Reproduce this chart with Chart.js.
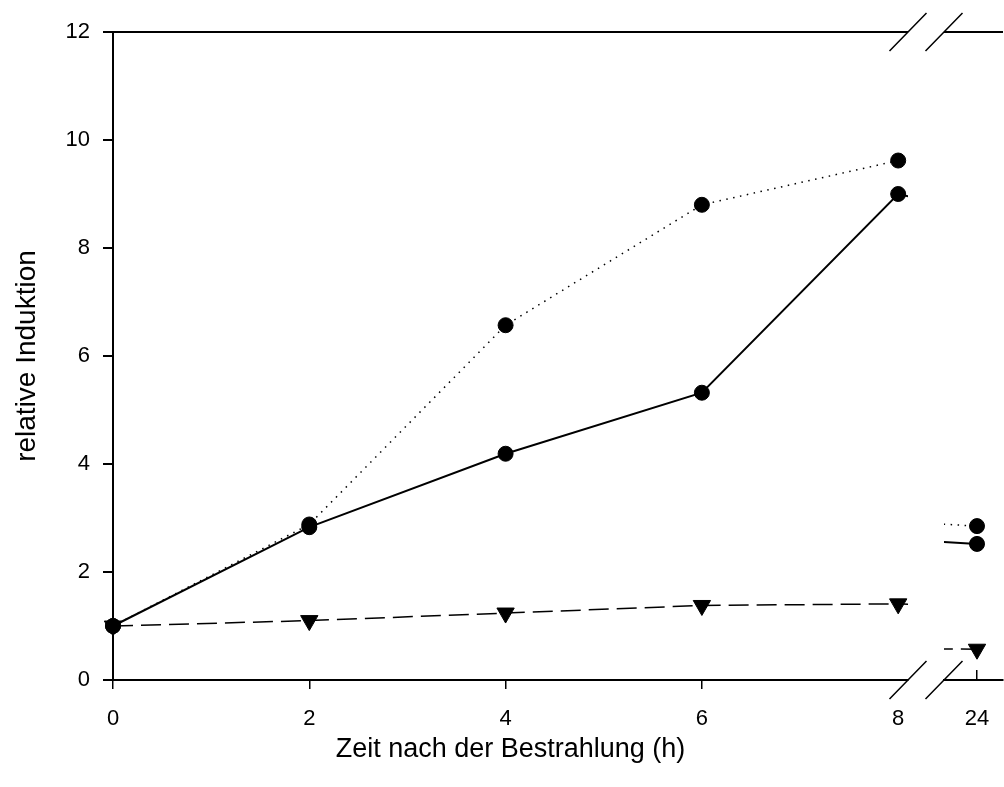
<!DOCTYPE html>
<html>
<head>
<meta charset="utf-8">
<style>
  html, body { margin: 0; padding: 0; background: #fff; }
</style>
<script src="https://cdn.jsdelivr.net/npm/chart.js@4/dist/chart.umd.min.js"></script>
</head>
<body>
<canvas id="inductionChart" width="1004" height="787"></canvas>
<script>
// hours after irradiation (8 -> 24 is across the axis break)
const hours = [0, 2, 4, 6, 8, 24];
const dottedValues = [1.0, 2.88, 6.57, 8.8, 9.62, 2.85];
const solidValues = [1.0, 2.83, 4.19, 5.32, 9.0, 2.52];
const dashedValues = [1.0, 1.1, 1.24, 1.38, 1.41, 0.57];

const xTicksLeft = [0, 2, 4, 6, 8];
const xTicksRight = [24];
const yTicks = [0, 2, 4, 6, 8, 10, 12];

const FONT = 'Liberation Sans, Arial, sans-serif';

/* each series is drawn twice: once on the left x scale, once on the right one,
   every dataset is clipped to its own scale area */
function makePair(label, values, style) {
  const data = hours.map((h, i) => ({ x: h, y: values[i] }));
  const base = Object.assign({
    label,
    data,
    borderColor: '#000',
    backgroundColor: '#000',
    pointBackgroundColor: '#000',
    pointBorderColor: '#000',
    pointBorderWidth: 1,
    fill: false,
    tension: 0,
  }, style);
  return [
    Object.assign({}, base, { xAxisID: 'x', clip: { left: 14, right: 0, top: 14, bottom: 14 } }),
    Object.assign({}, base, { xAxisID: 'x2', clip: { left: 0, right: 14, top: 14, bottom: 14 } }),
  ];
}

const datasets = [
  ...makePair('dotted', dottedValues, {
    borderWidth: 1.5, borderDash: [1.5, 5.5], pointStyle: 'circle', pointRadius: 7.5,
  }),
  ...makePair('solid', solidValues, {
    borderWidth: 2, pointStyle: 'circle', pointRadius: 7.5,
  }),
  ...makePair('dashed', dashedValues, {
    borderWidth: 1.5, borderDash: [20, 8], pointStyle: 'triangle', pointRotation: 180, pointRadius: 10,
  }),
];

const breakPlugin = {
  id: 'axisBreak',
  afterDraw(chart) {
    const { ctx, chartArea } = chart;
    const gap = chart.scales.xgap;
    const top = chartArea.top;
    const bottom = chartArea.bottom;
    ctx.save();
    ctx.strokeStyle = '#000';
    ctx.lineWidth = 2;
    ctx.beginPath();
    ctx.moveTo(chartArea.left, top);
    ctx.lineTo(gap.left, top);
    ctx.moveTo(gap.right, top);
    ctx.lineTo(chartArea.right, top);
    ctx.stroke();

    ctx.lineWidth = 1.5;
    ctx.beginPath();
    [top, bottom].forEach((y) => {
      [gap.left, gap.right].forEach((x) => {
        ctx.moveTo(x - 18.5, y + 19);
        ctx.lineTo(x + 18.5, y - 19);
      });
    });
    ctx.stroke();
    ctx.restore();
  },
};

const tickFont = { family: FONT, size: 22 };
const titleFont = { family: FONT, size: 27 };

// fixed axis thickness, no label overflow padding
const fitBottom = (s) => {
  s.height = 107;
  s.paddingLeft = 0;
  s.paddingRight = 0;
};

new Chart(document.getElementById('inductionChart'), {
  type: 'line',
  data: { datasets },
  plugins: [breakPlugin],
  options: {
    responsive: false,
    animation: false,
    devicePixelRatio: 1,
    layout: { autoPadding: false, padding: { top: 32, right: 1, left: 0, bottom: 0 } },
    plugins: {
      legend: { display: false },
      tooltip: { enabled: false },
    },
    scales: {
      x: {
        type: 'linear',
        position: 'bottom',
        stack: 'bottomAxis',
        stackWeight: 795,
        min: 0,
        max: 8.1,
        afterBuildTicks: (s) => { s.ticks = xTicksLeft.map((v) => ({ value: v })); },
        afterFit: fitBottom,
        ticks: { font: tickFont, color: '#000', padding: 17, maxRotation: 0, autoSkip: false },
        grid: {
          drawOnChartArea: false,
          tickLength: 9,
          lineWidth: 1.5,
          color: (c) => (c.tick && c.tick.value === 8 ? 'rgba(0,0,0,0)' : '#000'),
        },
        border: { color: '#000', width: 2 },
        title: {
          display: true,
          text: 'Zeit nach der Bestrahlung (h)',
          font: titleFont,
          color: '#000',
          padding: { top: 0, bottom: 21 },
        },
      },
      xgap: {
        type: 'linear',
        position: 'bottom',
        stack: 'bottomAxis',
        stackWeight: 36,
        min: 0,
        max: 1,
        afterFit: fitBottom,
        ticks: { display: false },
        grid: { display: false },
        border: { display: false },
      },
      x2: {
        type: 'linear',
        position: 'bottom',
        stack: 'bottomAxis',
        stackWeight: 59,
        min: 23.9175,
        max: 24.065,
        afterBuildTicks: (s) => { s.ticks = xTicksRight.map((v) => ({ value: v })); },
        afterFit: fitBottom,
        ticks: { font: tickFont, color: '#000', padding: 36, maxRotation: 0, autoSkip: false },
        grid: { drawOnChartArea: false, tickLength: -10, lineWidth: 1.5, color: '#000' },
        border: { color: '#000', width: 2 },
      },
      y: {
        type: 'linear',
        position: 'left',
        min: 0,
        max: 12,
        afterBuildTicks: (s) => { s.ticks = yTicks.map((v) => ({ value: v })); },
        afterFit: (s) => { s.width = 113; },
        ticks: { font: tickFont, color: '#000', padding: 13 },
        grid: { drawOnChartArea: false, tickLength: 10, lineWidth: 2, color: '#000' },
        border: { color: '#000', width: 2 },
        title: {
          display: true,
          text: 'relative Induktion',
          font: { family: FONT, size: 28 },
          color: '#000',
          padding: { top: 10, bottom: 0 },
        },
      },
    },
  },
});
</script>
</body>
</html>
